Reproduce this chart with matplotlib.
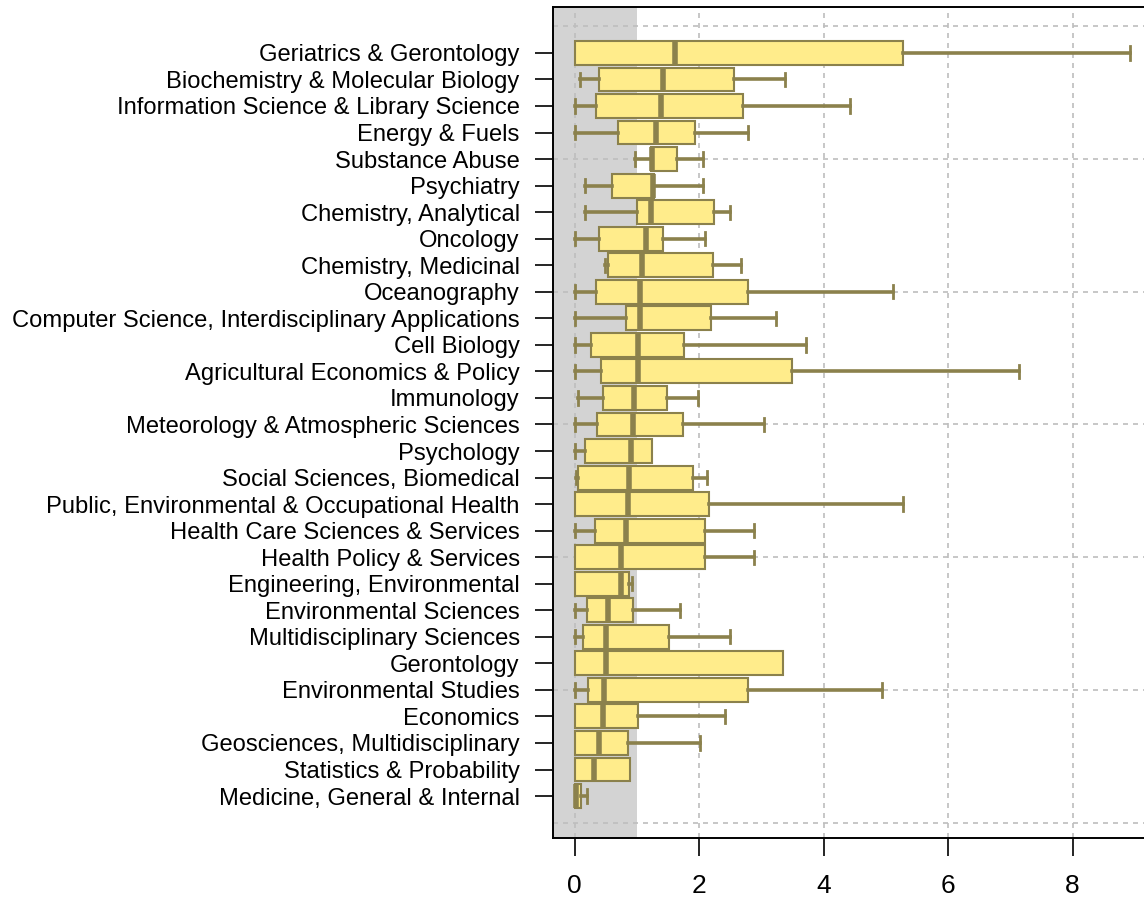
import numpy as np
import matplotlib
matplotlib.use("Agg")
import matplotlib.pyplot as plt

# categories, top to bottom
categories = [
    "Geriatrics & Gerontology",
    "Biochemistry & Molecular Biology",
    "Information Science & Library Science",
    "Energy & Fuels",
    "Substance Abuse",
    "Psychiatry",
    "Chemistry, Analytical",
    "Oncology",
    "Chemistry, Medicinal",
    "Oceanography",
    "Computer Science, Interdisciplinary Applications",
    "Cell Biology",
    "Agricultural Economics & Policy",
    "Immunology",
    "Meteorology & Atmospheric Sciences",
    "Psychology",
    "Social Sciences, Biomedical",
    "Public, Environmental & Occupational Health",
    "Health Care Sciences & Services",
    "Health Policy & Services",
    "Engineering, Environmental",
    "Environmental Sciences",
    "Multidisciplinary Sciences",
    "Gerontology",
    "Environmental Studies",
    "Economics",
    "Geosciences, Multidisciplinary",
    "Statistics & Probability",
    "Medicine, General & Internal",
]

whis_lo = [0.00, 0.09, 0.00, 0.00, 0.97, 0.17, 0.17, 0.00, 0.49, 0.00,
           0.00, 0.00, 0.00, 0.06, 0.00, 0.00, 0.02, 0.00, 0.00, 0.00,
           0.00, 0.00, 0.00, 0.00, 0.00, 0.00, 0.00, 0.00, 0.00]
q1 = [0.00, 0.40, 0.34, 0.69, 1.23, 0.60, 1.01, 0.39, 0.53, 0.34,
      0.83, 0.26, 0.43, 0.46, 0.36, 0.17, 0.06, 0.00, 0.32, 0.00,
      0.00, 0.20, 0.14, 0.00, 0.22, 0.00, 0.00, 0.00, 0.00]
medians = [1.62, 1.42, 1.39, 1.31, 1.25, 1.26, 1.22, 1.14, 1.08, 1.05,
           1.05, 1.02, 1.02, 0.96, 0.94, 0.91, 0.87, 0.85, 0.82, 0.75,
           0.74, 0.53, 0.50, 0.50, 0.47, 0.46, 0.40, 0.31, 0.02]
q3 = [5.27, 2.56, 2.70, 1.93, 1.65, 1.28, 2.24, 1.42, 2.22, 2.78,
      2.19, 1.76, 3.49, 1.48, 1.74, 1.25, 1.91, 2.16, 2.10, 2.10,
      0.88, 0.94, 1.51, 3.35, 2.78, 1.02, 0.86, 0.89, 0.11]
whis_hi = [8.93, 3.38, 4.42, 2.78, 2.07, 2.07, 2.50, 2.10, 2.67, 5.11,
           3.24, 3.72, 7.14, 1.99, 3.04, 1.25, 2.12, 5.27, 2.89, 2.89,
           0.93, 1.70, 2.50, 3.35, 4.94, 2.41, 2.02, 0.89, 0.20]

fill_col = "#FFEC8B"
edge_col = "#8B814C"

n = len(categories)
positions = np.arange(n, 0, -1)

stats = []
for i in range(n):
    stats.append(dict(whislo=whis_lo[i], q1=q1[i], med=medians[i],
                      q3=q3[i], whishi=whis_hi[i], fliers=[]))

fig = plt.figure(figsize=(11.44, 9.06), dpi=100)
ax = fig.add_axes([553 / 1144, 68 / 906, 597 / 1144, 831 / 906])

# shaded region up to 1
ax.axvspan(-1, 1, color="#D3D3D3", zorder=0, lw=0)

# dotted grid
for gx in [0, 2, 4, 6, 8]:
    ax.axvline(gx, color="#BEBEBE", lw=1.2, ls=(0, (3, 3)), zorder=1)
for gy in [0, 5, 10, 15, 20, 25, 30]:
    ax.axhline(gy, color="#BEBEBE", lw=1.2, ls=(0, (3, 3)), zorder=1)

bp = ax.bxp(stats, positions=positions, vert=False, widths=0.9, capwidths=0.5,
            showfliers=False, patch_artist=True, zorder=3,
            boxprops=dict(facecolor=fill_col, edgecolor=edge_col, linewidth=1.5),
            medianprops=dict(color=edge_col, linewidth=4.0, solid_capstyle="butt"),
            whiskerprops=dict(color=edge_col, linewidth=2.6),
            capprops=dict(color=edge_col, linewidth=2.0))

# no staple where the whisker has zero length
for i in range(n):
    if whis_lo[i] == q1[i]:
        bp["caps"][2 * i].set_visible(False)
    if whis_hi[i] == q3[i]:
        bp["caps"][2 * i + 1].set_visible(False)

ax.set_xlim(-0.347, 9.245)
ax.set_ylim(-0.58, 30.73)

ax.set_yticks(positions)
ax.set_yticklabels(categories, fontsize=17.1, family="Liberation Sans")
ax.set_xticks([0, 2, 4, 6, 8])
ax.set_xticklabels(["0", "2", "4", "6", "8"], fontsize=19, family="Liberation Sans")
ax.tick_params(axis="y", length=13, width=1.2, pad=11)
ax.tick_params(axis="x", length=13, width=1.2, pad=13)

for side in ["left", "bottom", "top"]:
    ax.spines[side].set_linewidth(1.4)
ax.spines["right"].set_visible(False)

fig.savefig("out.png", dpi=100)
